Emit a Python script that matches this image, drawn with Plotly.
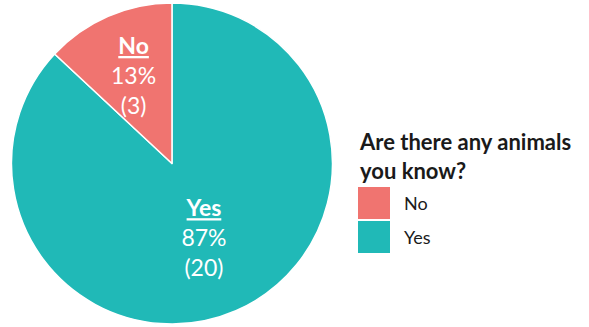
import math
import plotly.graph_objects as go

# Survey answers
labels = ["No", "Yes"]
values = [3, 20]
colors = ["#F07470", "#20B9B7"]
legend_title = "Are there any animals<br>you know?"

FONT = "Lato, 'Open Sans', sans-serif"
LABEL_TMPL = "<b><u>{label}</u></b><br>{pct:.0%}<br>({value})"

# slices drawn Yes first so that "No" ends just left of 12 o'clock
order = [1, 0]
total = sum(values)

# figure / pie geometry (pixels)
FW, FH = 589, 327
ML, MR, MT, MB = 11, 0, 3, 3
W, H = FW - ML - MR, FH - MT - MB
dom_x = [0, 0.557]
radius = min((dom_x[1] - dom_x[0]) * W, H) / 2
cx = (dom_x[0] + dom_x[1]) / 2  # paper x of pie centre
cy = 0.5

# the small slice gets its label as an annotation so it keeps full size
small = [i for i in order if values[i] / total < 0.25]
texts = []
for i in order:
    if i in small:
        texts.append("")
    else:
        texts.append(LABEL_TMPL.format(label=labels[i], pct=values[i] / total, value=values[i]))

fig = go.Figure(
    go.Pie(
        labels=[labels[i] for i in order],
        values=[values[i] for i in order],
        sort=False,
        direction="clockwise",
        rotation=0,
        marker=dict(colors=[colors[i] for i in order],
                    line=dict(color="white", width=1.5)),
        text=texts,
        textinfo="text",
        textposition="inside",
        insidetextorientation="horizontal",
        textfont=dict(family=FONT, size=23, color="white"),
        domain=dict(x=dom_x, y=[0, 1]),
        showlegend=False,
        hoverinfo="label+percent+value",
    )
)

annotations = []

# label for the small slice, placed along its mid-angle
start = 0.0
for i in order:
    span = values[i] / total * 360
    if i in small:
        mid = math.radians(start + span / 2)  # clockwise from 12 o'clock
        r = 0.6 * radius
        annotations.append(dict(
            text=LABEL_TMPL.format(label=labels[i], pct=values[i] / total, value=values[i]),
            xref="paper", yref="paper",
            x=cx + r * math.sin(mid) / W, y=cy + r * math.cos(mid) / H,
            xanchor="center", yanchor="middle", align="center", showarrow=False,
            font=dict(family=FONT, size=23, color="white"),
        ))
    start += span

# Legend drawn as swatches + labels in paper coordinates
shapes = []
annotations.append(dict(
    text="<b>" + legend_title + "</b>",
    xref="paper", yref="paper", x=(357 - ML) / W, y=1 - (186 - MT) / H,
    xanchor="left", yanchor="bottom", align="left", showarrow=False,
    font=dict(family=FONT, size=22, color="#1a1a1a"),
))
x0, sw = 358, 32
y_top = 187
for i, (lab, col) in enumerate(zip(labels, colors)):
    top = y_top + i * (sw + 2)
    shapes.append(dict(
        type="rect", xref="paper", yref="paper",
        x0=(x0 - ML) / W, x1=(x0 + sw - ML) / W,
        y0=1 - (top + sw - MT) / H, y1=1 - (top - MT) / H,
        fillcolor=col, line=dict(width=0),
    ))
    annotations.append(dict(
        text=lab, xref="paper", yref="paper",
        x=(402 - ML) / W, y=1 - (top + sw / 2 - MT) / H,
        xanchor="left", yanchor="middle", showarrow=False,
        font=dict(family=FONT, size=18, color="#1a1a1a"),
    ))

fig.update_layout(
    width=FW, height=FH,
    margin=dict(l=ML, r=MR, t=MT, b=MB),
    paper_bgcolor="white",
    plot_bgcolor="white",
    shapes=shapes,
    annotations=annotations,
    font=dict(family=FONT),
    uniformtext=dict(minsize=23, mode="show"),
)

fig.write_html("out.html")
